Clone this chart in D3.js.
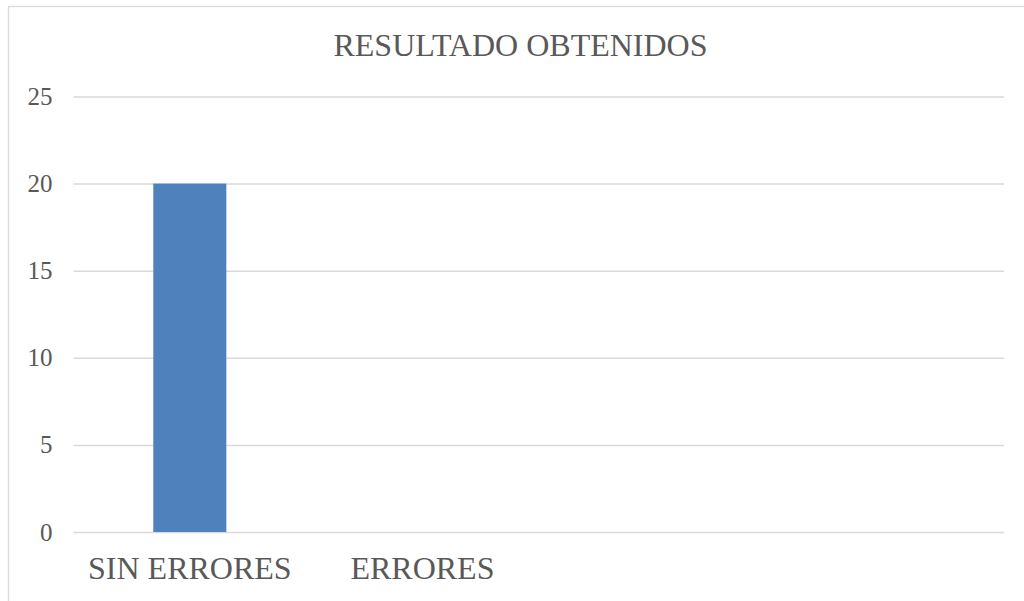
<!DOCTYPE html>
<html>
<head>
<meta charset="utf-8">
<script src="https://cdn.jsdelivr.net/npm/d3@7"></script>
<style>
  html, body { margin: 0; padding: 0; background: #fff; }
  svg { display: block; }
</style>
</head>
<body>
<svg id="chart" width="1024" height="601"></svg>
<script>
// Chart data
const title = "RESULTADO OBTENIDOS";
const categories = ["SIN ERRORES", "ERRORES", "", ""];
const values = [20, 0];
const yTicks = [0, 5, 10, 15, 20, 25];

const W = 1024, H = 601;
const plot = { left: 73.5, right: 1004, top: 96.5, bottom: 532 };
const textColor = "#595959";
const gridColor = "#d9d9d9";
const barColor = "#4f81bd";
const fontFamily = "'Liberation Serif', 'Times New Roman', serif";

const svg = d3.select("#chart");

// Outer chart frame (extends past the right and bottom edges)
svg.append("rect")
  .attr("x", 8.5).attr("y", 6.5)
  .attr("width", W + 20).attr("height", H + 20)
  .attr("fill", "#fff")
  .attr("stroke", gridColor).attr("stroke-width", 1.3);

const x = d3.scaleBand()
  .domain(d3.range(categories.length))
  .range([plot.left, plot.right])
  .paddingInner(0.686)
  .paddingOuter(0.343);

const y = d3.scaleLinear()
  .domain([0, 25])
  .range([plot.bottom, plot.top]);

// Horizontal gridlines + y labels
const yAxis = d3.axisLeft(y)
  .tickValues(yTicks)
  .tickSize(-(plot.right - plot.left))
  .tickPadding(21);

const yG = svg.append("g")
  .attr("transform", `translate(${plot.left},0)`)
  .call(yAxis);
yG.select(".domain").remove();
yG.selectAll(".tick line")
  .attr("stroke", gridColor).attr("stroke-width", 1.5);
yG.selectAll(".tick text")
  .attr("fill", textColor)
  .style("font-family", fontFamily)
  .style("font-size", "25px");

// Bars
svg.append("g")
  .selectAll("rect")
  .data(values)
  .join("rect")
  .attr("x", (d, i) => x(i))
  .attr("width", x.bandwidth())
  .attr("y", d => y(d))
  .attr("height", d => y(0) - y(d))
  .attr("fill", barColor);

// Category axis
const xAxis = d3.axisBottom(x)
  .tickFormat(i => categories[i])
  .tickSize(0)
  .tickPadding(24);

const xG = svg.append("g")
  .attr("transform", `translate(0,${plot.bottom})`)
  .call(xAxis);
xG.select(".domain").remove();
xG.selectAll(".tick text")
  .attr("fill", textColor)
  .style("font-family", fontFamily)
  .style("font-size", "32px");

// Title
svg.append("text")
  .attr("x", 520.5).attr("y", 56)
  .attr("text-anchor", "middle")
  .attr("fill", textColor)
  .style("font-family", fontFamily)
  .style("font-size", "32px")
  .text(title);
</script>
</body>
</html>
